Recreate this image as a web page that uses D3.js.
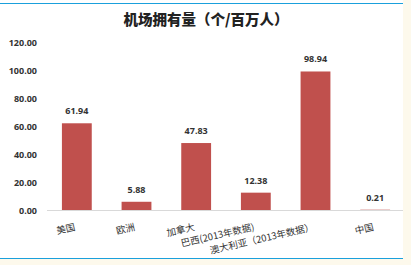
<!DOCTYPE html>
<html>
<head>
<meta charset="utf-8">
<script src="https://cdn.jsdelivr.net/npm/d3@7"></script>
<style>
  body { margin: 0; background: #fdf9ec; }
  svg text { font-family: "Noto Sans", "Noto Sans CJK SC", sans-serif; }
</style>
</head>
<body>
<div id="chart"></div>
<script>
// data
var categories = ["美国", "欧洲", "加拿大", "巴西(2013年数据)", "澳大利亚（2013年数据）", "中国"];
var values = [61.94, 5.88, 47.83, 12.38, 98.94, 0.21];
var yTicks = [0, 20, 40, 60, 80, 100, 120];
var title = "机场拥有量（个/百万人）";

var svgWidth = 411, svgHeight = 265;
var margin = { top: 42, right: 6, bottom: 55, left: 47 };
var width = 405 - margin.left;
var height = 210 - margin.top;

var svg = d3.select("#chart").append("svg")
  .attr("width", svgWidth)
  .attr("height", svgHeight);

// white panel + blue rules
svg.append("rect").attr("x", 0).attr("y", 0).attr("width", 403).attr("height", 259).attr("fill", "#fff");
svg.append("line").attr("x1", 0).attr("x2", 403).attr("y1", 3.5).attr("y2", 3.5)
  .attr("stroke", "#1aa0dc").attr("stroke-width", 1.2);
svg.append("line").attr("x1", 0).attr("x2", 403).attr("y1", 258.5).attr("y2", 258.5)
  .attr("stroke", "#1aa0dc").attr("stroke-width", 1.2);

svg.append("text")
  .attr("x", 206).attr("y", 25)
  .attr("text-anchor", "middle")
  .style("font-family", "'Noto Sans CJK SC', sans-serif")
  .style("font-size", "14.5px").style("font-weight", "900").attr("fill", "#222")
  .text(title);

var chartGroup = svg.append("g").attr("transform", `translate(${margin.left}, ${margin.top})`);

var x = d3.scaleBand().domain(categories).range([0, width]).paddingInner(0.5).paddingOuter(0.25);
var y = d3.scaleLinear().domain([0, 120]).range([height, 0]);

// y axis labels only
var leftAxis = d3.axisLeft(y).tickValues(yTicks).tickFormat(d3.format(".2f")).tickSize(0).tickPadding(10);
var yAxis = chartGroup.append("g").call(leftAxis);
yAxis.select(".domain").remove();
yAxis.selectAll("text")
  .style("font-size", "9px").style("font-weight", "bold").attr("fill", "#333")
  .attr("dy", "0.35em");

// baseline
chartGroup.append("line")
  .attr("x1", 0).attr("x2", 403 - margin.left)
  .attr("y1", height + 0.5).attr("y2", height + 0.5)
  .attr("stroke", "#d9d9d9").attr("stroke-width", 1.2);

chartGroup.selectAll("rect.bar")
  .data(values)
  .enter().append("rect")
  .attr("class", "bar")
  .attr("x", (d, i) => x(categories[i]))
  .attr("width", x.bandwidth())
  .attr("y", d => y(d))
  .attr("height", d => height - y(d))
  .attr("fill", "#c0504d");

chartGroup.selectAll("text.val")
  .data(values)
  .enter().append("text")
  .attr("class", "val")
  .attr("x", (d, i) => x(categories[i]) + x.bandwidth() / 2)
  .attr("y", d => y(d) - 9)
  .attr("text-anchor", "middle")
  .style("font-size", "9px").style("font-weight", "bold").attr("fill", "#333")
  .text(d => d3.format(".2f")(d));

// rotated category labels
chartGroup.selectAll("text.cat")
  .data(categories)
  .enter().append("text")
  .attr("class", "cat")
  .attr("transform", d => `translate(${x(d) + x.bandwidth() / 2 - 1}, ${height + 20}) rotate(-13)`)
  .attr("text-anchor", "end")
  .style("font-family", "'Noto Sans CJK SC', sans-serif")
  .style("font-size", "9.5px").attr("fill", "#333")
  .text(d => d);
</script>
</body>
</html>
